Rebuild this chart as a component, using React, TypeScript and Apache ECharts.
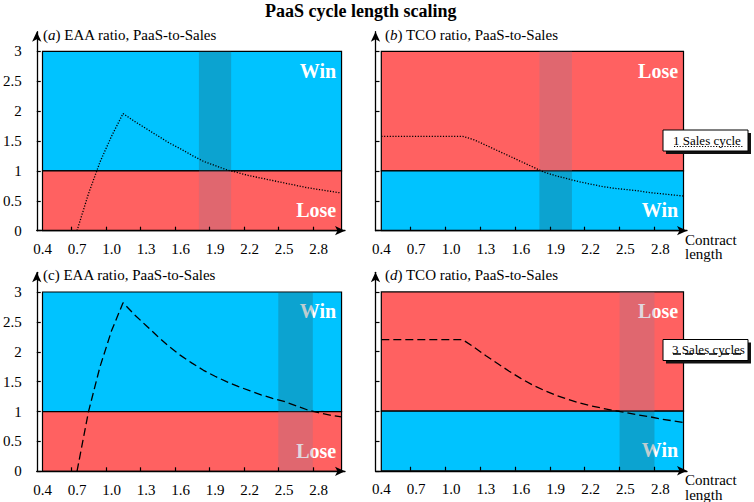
import React, { useEffect, useRef } from 'react';
import * as echarts from 'echarts';

// ---- data ----
const contractLength = [0.4, 0.5, 0.6, 0.7, 0.8, 0.9, 1.0, 1.1, 1.2, 1.3, 1.4, 1.5, 1.6, 1.7, 1.8, 1.9, 2.0, 2.1, 2.2, 2.3, 2.4, 2.5, 2.6, 2.7, 2.8, 2.9, 3.0];
const eaaOneCycle = [null, null, null, 0, 0.62, 1.15, 1.58, 1.96, 1.83, 1.71, 1.59, 1.47, 1.37, 1.26, 1.16, 1.09, 1.02, 0.97, 0.92, 0.88, 0.84, 0.8, 0.76, 0.72, 0.69, 0.66, 0.63];
const tcoOneCycle = [1.58, 1.58, 1.58, 1.58, 1.58, 1.58, 1.58, 1.58, 1.52, 1.43, 1.34, 1.25, 1.16, 1.07, 0.98, 0.92, 0.87, 0.82, 0.78, 0.74, 0.71, 0.69, 0.67, 0.64, 0.62, 0.6, 0.58];
const eaaThreeCycles = [null, null, null, 0, 1.0, 1.75, 2.35, 2.82, 2.62, 2.44, 2.26, 2.09, 1.94, 1.81, 1.69, 1.59, 1.5, 1.42, 1.35, 1.28, 1.22, 1.17, 1.1, 1.03, 0.98, 0.94, 0.91];
const tcoThreeCycles = [2.2, 2.2, 2.2, 2.2, 2.2, 2.2, 2.2, 2.2, 2.07, 1.93, 1.8, 1.67, 1.55, 1.44, 1.35, 1.27, 1.2, 1.14, 1.09, 1.05, 1.01, 0.98, 0.94, 0.91, 0.87, 0.84, 0.81];
const breakEvenOneCycle = [1.76, 2.04];
const breakEvenThreeCycles = [2.45, 2.75];
const xLabelValues = [0.4, 0.7, 1.0, 1.3, 1.6, 1.9, 2.2, 2.5, 2.8];
const xTickValues = [0.65, 0.95, 1.25, 1.55, 1.85, 2.15, 2.45, 2.75];
const yTickValues = [0, 0.5, 1, 1.5, 2, 2.5, 3];
const regionX = [0.4, 3.0];
const seriesNames = ['1 Sales cycle', '1 Sales cycle', '3 Sales cycles', '3 Sales cycles'];

const SERIF = '"Liberation Serif", "Times New Roman", serif';
const BLUE = '#00C3FF';
const RED = '#FF6161';
const OVER_BLUE = 'rgba(40,90,100,0.3)';
const OVER_RED = 'rgba(152,120,147,0.3)';

const panels = [
  { title: '({i|a}) EAA ratio, PaaS-to-Sales', values: eaaOneCycle, band: breakEvenOneCycle, winTop: true, dash: [1.2, 1.6] },
  { title: '({i|b}) TCO ratio, PaaS-to-Sales', values: tcoOneCycle, band: breakEvenOneCycle, winTop: false, dash: [1.2, 1.6] },
  { title: '(c) EAA ratio, PaaS-to-Sales', values: eaaThreeCycles, band: breakEvenThreeCycles, winTop: true, dash: [8, 4] },
  { title: '({i|d}) TCO ratio, PaaS-to-Sales', values: tcoThreeCycles, band: breakEvenThreeCycles, winTop: false, dash: [8, 4] },
];

const gridLeft = [33.5, 375.5, 33.5, 375.5];
const gridTop = [31.7, 31.7, 272.3, 272.3];
const subLeft = [43, 385, 43, 385];
const subTop = [27, 27, 267, 267];

function buildOption() {
  const grid: any[] = [];
  const xAxis: any[] = [];
  const yAxis: any[] = [];
  const series: any[] = [];
  const title: any[] = [
    {
      text: 'PaaS cycle length scaling',
      left: 265,
      top: 2,
      padding: 0,
      textStyle: { fontFamily: SERIF, fontSize: 18, fontWeight: 'bold', color: '#000' },
    },
  ];

  panels.forEach((p, i) => {
    grid.push({ left: gridLeft[i], top: gridTop[i], width: 311.5, height: 199, containLabel: false });
    title.push({
      text: p.title,
      left: subLeft[i],
      top: subTop[i],
      padding: 0,
      textStyle: {
        fontFamily: SERIF,
        fontSize: 15,
        fontWeight: 'normal',
        color: '#000',
        rich: { i: { fontFamily: SERIF, fontSize: 15, fontStyle: 'italic', color: '#000' } },
      },
    });
    const isRight = i % 2 === 1;
    xAxis.push({
      gridIndex: i,
      type: 'value',
      min: 0.35,
      max: 3.03,
      z: 5,
      axisLine: { show: true, lineStyle: { color: '#000', width: 1.3 }, symbol: ['none', 'arrow'], symbolSize: [7, 10] },
      axisTick: { show: true, inside: true, length: 4, lineStyle: { color: '#000', width: 1.2 }, customValues: xTickValues },
      axisLabel: {
        show: true,
        customValues: xLabelValues,
        formatter: (v: number) => v.toFixed(1),
        margin: 11,
        fontSize: 15,
        fontFamily: SERIF,
        color: '#000',
      },
      splitLine: { show: false },
      name: isRight ? 'Contract\nlength' : '',
      nameLocation: 'end',
      nameGap: -2,
      nameTextStyle: {
        fontFamily: SERIF,
        fontSize: 15,
        color: '#000',
        align: 'left',
        verticalAlign: 'top',
        lineHeight: 14.5,
        padding: [2, 0, 0, 0],
      },
    });
    yAxis.push({
      gridIndex: i,
      type: 'value',
      min: 0,
      max: 3.33,
      z: 5,
      axisLine: { show: true, lineStyle: { color: '#000', width: 1.3 }, symbol: ['none', 'arrow'], symbolSize: [7, 10] },
      axisTick: { show: true, inside: true, length: 4, lineStyle: { color: '#000', width: 1.2 }, customValues: yTickValues },
      axisLabel: {
        show: !isRight,
        customValues: yTickValues,
        margin: 15,
        fontSize: 15,
        fontFamily: SERIF,
        color: '#000',
      },
      splitLine: { show: false },
    });

    const topColor = p.winTop ? BLUE : RED;
    const bottomColor = p.winTop ? RED : BLUE;
    const topText = p.winTop ? 'Win' : 'Lose';
    const bottomText = p.winTop ? 'Lose' : 'Win';
    const labelBase = { show: true, color: '#fff', fontSize: 20, fontWeight: 'bold', fontFamily: SERIF };
    const border = { borderColor: '#000', borderWidth: 1.2 };

    const pairs = contractLength
      .map((x, k) => [x, p.values[k]])
      .filter((pt) => pt[1] !== null);

    series.push({
      name: seriesNames[i],
      type: 'line',
      xAxisIndex: i,
      yAxisIndex: i,
      data: pairs,
      showSymbol: false,
      symbol: 'none',
      z: 4,
      lineStyle: { color: '#000', width: 1.3, type: p.dash },
      silent: true,
      markArea: {
        silent: true,
        data: [
          [
            {
              xAxis: regionX[0],
              yAxis: 1,
              itemStyle: { color: topColor, ...border },
              label: { ...labelBase, formatter: topText, position: 'insideTopRight', distance: 6, offset: [0, 4] },
            },
            { xAxis: regionX[1], yAxis: 3 },
          ],
          [
            {
              xAxis: regionX[0],
              yAxis: 0,
              itemStyle: { color: bottomColor, ...border },
              label: { ...labelBase, formatter: bottomText, position: 'insideBottomRight', distance: 6, offset: [0, -5] },
            },
            { xAxis: regionX[1], yAxis: 1 },
          ],
        ],
      },
    });

    const overTop = p.winTop ? OVER_BLUE : OVER_RED;
    const overBottom = p.winTop ? OVER_RED : OVER_BLUE;
    series.push({
      name: 'break-even band ' + i,
      type: 'custom',
      xAxisIndex: i,
      yAxisIndex: i,
      z: 3,
      silent: true,
      data: [
        [p.band[0], p.band[1], 1, 3],
        [p.band[0], p.band[1], 0, 1],
      ],
      encode: { x: [0, 1], y: [2, 3] },
      renderItem: (params: any, api: any) => {
        const a = api.coord([api.value(0), api.value(3)]);
        const b = api.coord([api.value(1), api.value(2)]);
        return {
          type: 'rect',
          shape: { x: a[0], y: a[1], width: b[0] - a[0], height: b[1] - a[1] },
          style: { fill: params.dataIndex === 0 ? overTop : overBottom },
        };
      },
    });
  });

  const legendText = { fontSize: 13, fontFamily: SERIF, fill: '#000', align: 'left', verticalAlign: 'middle' };
  const graphic: any[] = [
    // legend box: 1 Sales cycle
    { type: 'rect', shape: { x: 666, y: 133, width: 85, height: 21 }, style: { fill: '#111' }, z: 10 },
    { type: 'rect', shape: { x: 663, y: 130, width: 85, height: 21 }, style: { fill: '#fff', stroke: '#000', lineWidth: 1 }, z: 11 },
    { type: 'line', shape: { x1: 674, y1: 146.5, x2: 743, y2: 146.5 }, style: { stroke: '#000', lineWidth: 1.2, lineDash: [1.2, 1.6] }, z: 12 },
    { type: 'text', x: 673, y: 140.5, style: { ...legendText, text: seriesNames[0] }, z: 13 },
    // legend box: 3 Sales cycles
    { type: 'rect', shape: { x: 666, y: 342.5, width: 85, height: 21 }, style: { fill: '#111' }, z: 10 },
    { type: 'rect', shape: { x: 663, y: 339.5, width: 85, height: 21 }, style: { fill: '#fff', stroke: '#000', lineWidth: 1 }, z: 11 },
    { type: 'line', shape: { x1: 673, y1: 354, x2: 741, y2: 354 }, style: { stroke: '#000', lineWidth: 1.3, lineDash: [8, 4] }, z: 12 },
    { type: 'text', x: 672, y: 349.5, style: { ...legendText, text: seriesNames[2] }, z: 13 },
  ];

  return { animation: false, backgroundColor: '#fff', title, grid, xAxis, yAxis, series, graphic };
}

export default function App() {
  const ref = useRef<HTMLDivElement>(null);
  useEffect(() => {
    if (!ref.current) return;
    const chart = echarts.init(ref.current, undefined, { renderer: 'svg' });
    chart.setOption(buildOption() as any);
    return () => chart.dispose();
  }, []);
  return <div ref={ref} style={{ position: 'fixed', left: 0, top: 0, width: 754, height: 502 }} />;
}
